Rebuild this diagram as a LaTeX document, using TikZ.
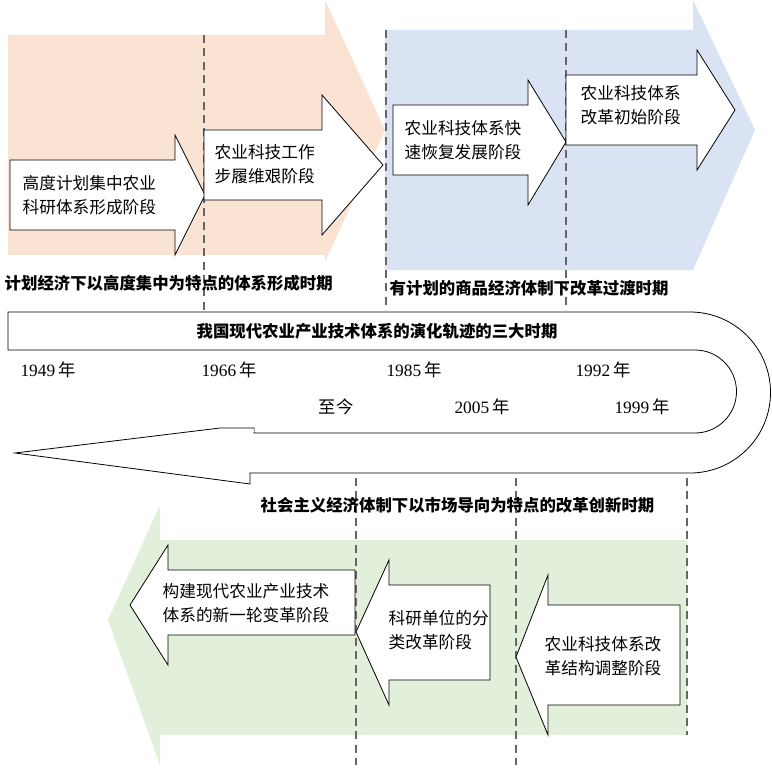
\documentclass[tikz,border=0pt]{standalone}
\usepackage{fontspec}
\setmainfont{Liberation Serif}
\newfontfamily\cjk{Noto Sans CJK SC}
\begin{document}
\begin{tikzpicture}[x=0.75pt,y=-0.75pt]
\useasboundingbox (0,0) rectangle (771,773);
\definecolor{org}{HTML}{FBE3D4}
\definecolor{blu}{HTML}{DAE3F3}
\definecolor{grn}{HTML}{E2EFDA}
\tikzset{wa/.style={draw=black,fill=white,line width=0.6pt},
  dl/.style={draw=gray!80!black,dashed,line width=1.2pt,dash pattern=on 6pt off 4pt},
  lab/.style={font=\cjk\fontsize{12.5}{18}\selectfont,align=left,anchor=west},
  per/.style={font=\cjk\bfseries\fontsize{12.3}{14}\selectfont},
  yr/.style={font=\fontsize{13}{15}\selectfont}}
% big arrows
\fill[org] (8,35) -- (325,35) -- (325,0) -- (385,130) -- (325,262) -- (325,255) -- (8,255) -- cycle;
\fill[blu] (385,30) -- (693,30) -- (693,0) -- (755,130) -- (693,270) -- (385,270) -- cycle;
\fill[grn] (687,540) -- (160,540) -- (160,505) -- (108,620) -- (160,765) -- (160,735) -- (687,735) -- cycle;
% dashed lines
\coordinate (d1a) at (204,35); \coordinate (d1b) at (204,310);
\coordinate (d2a) at (386,30); \coordinate (d2b) at (386,310);
\coordinate (d3a) at (566,30); \coordinate (d3b) at (566,310);
\coordinate (d4a) at (356,478); \coordinate (d4b) at (356,765);
\coordinate (d5a) at (516,478); \coordinate (d5b) at (516,765);
\coordinate (d6a) at (687,478); \coordinate (d6b) at (687,735);
\draw[dl] (d1a)--(d1b); \draw[dl] (d2a)--(d2b); \draw[dl] (d3a)--(d3b);
\draw[dl] (d4a)--(d4b); \draw[dl] (d5a)--(d5b); \draw[dl] (d6a)--(d6b);
% white arrows
\draw[wa] (10,160) -- (175,160) -- (175,135) -- (205,195) -- (175,255) -- (175,230) -- (10,230) -- cycle;
\draw[wa] (204,130) -- (322,130) -- (322,95) -- (383,165) -- (322,235) -- (322,200) -- (204,200) -- cycle;
\draw[wa] (393,105) -- (528,105) -- (528,80) -- (566,142) -- (528,205) -- (528,175) -- (393,175) -- cycle;
\draw[wa] (566,75) -- (697,75) -- (697,50) -- (735,110) -- (697,170) -- (697,145) -- (566,145) -- cycle;
\draw[wa] (680,605) -- (548,605) -- (548,575) -- (516,657) -- (548,735) -- (548,705) -- (680,705) -- cycle;
\draw[wa] (490,585) -- (389,585) -- (389,560) -- (356,632) -- (389,705) -- (389,680) -- (490,680) -- cycle;
\draw[wa] (355,570) -- (168,570) -- (168,545) -- (130,605) -- (168,665) -- (168,635) -- (355,635) -- cycle;
\node[lab] (t1) at (18,195) {高度计划集中农业\\科研体系形成阶段};
\node[lab] (t2) at (210,164) {农业科技工作\\步履维艰阶段};
\node[lab] (t3) at (400,140) {农业科技体系快\\速恢复发展阶段};
\node[lab] (t4) at (576,105) {农业科技体系\\改革初始阶段};
\node[lab] (t5) at (540,656) {农业科技体系改\\革结构调整阶段};
\node[lab] (t6) at (384,630) {科研单位的分\\类改革阶段};
\node[lab] (t7) at (158,603) {构建现代农业产业技术\\体系的新一轮变革阶段};
% U arrow
\draw[wa] (8,312) -- (690,312) arc[start angle=-90,end angle=90,radius=80.5] -- (250,473) -- (250,484) -- (15,453) -- (220,428) -- (254,428) -- (254,433) -- (695,433) arc[start angle=90,end angle=-90,radius=41.5] -- (8,350) -- cycle;
\fill[white] (221,428.6) rectangle (253.7,432);
\node[per] (ttl) at (377,331) {我国现代农业产业技术体系的演化轨迹的三大时期};
\node[per,anchor=west] (p1) at (0,283) {计划经济下以高度集中为特点的体系形成时期};
\node[per,anchor=west] (p2) at (385,288) {有计划的商品经济体制下改革过渡时期};
\node[per,anchor=west] (p3) at (256,505) {社会主义经济体制下以市场导向为特点的改革创新时期};
\node[yr] (y1) at (48,370) {1949\,{\cjk 年}};
\node[yr] (y2) at (229,370) {1966\,{\cjk 年}};
\node[yr] (y3) at (414,370) {1985\,{\cjk 年}};
\node[yr] (y4) at (603,370) {1992\,{\cjk 年}};
\node[yr] (y5) at (336,407) {\cjk 至今};
\node[yr] (y6) at (482,407) {2005\,{\cjk 年}};
\node[yr] (y7) at (642,407) {1999\,{\cjk 年}};
\end{tikzpicture}
\end{document}
